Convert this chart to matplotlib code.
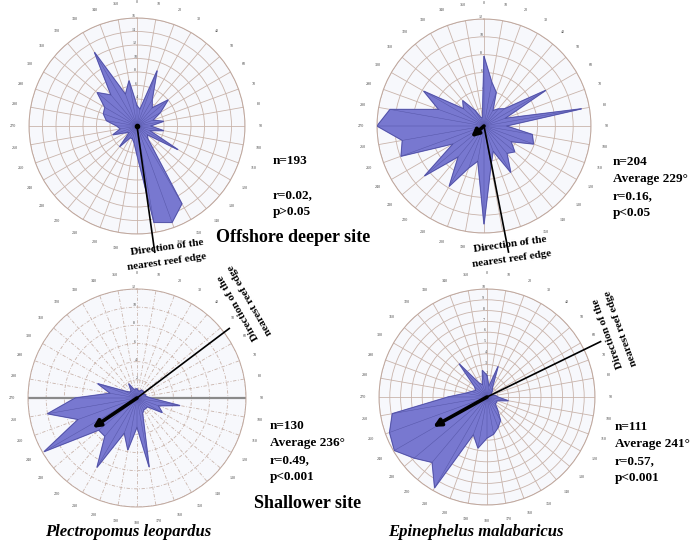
import matplotlib.pyplot as plt
import numpy as np

plt.rcParams['font.family'] = ['Liberation Serif', 'DejaVu Serif']

# compass bins (deg, clockwise from north)
angles = np.arange(0, 360, 10)
angle_labels = [str(a) for a in angles]

r_off_pl = [3, 2.5, 8.7, 4.5, 3.5, 6, 4, 2.5, 4, 2, 4, 2, 7, 2, 2.5, 13.3, 15.2, 14.5,
            4.3, 2.5, 2, 2, 4, 1.5, 2, 3.8, 2.5, 3, 4.6, 5.3, 5.5, 7.7, 6, 12.6, 5, 6.8]
r_off_em = [7.8, 5, 4, 2, 2.5, 3, 8, 2.5, 11.1, 2.5, 5.5, 5.9, 3.5, 4.5, 4, 6, 3, 4.5,
            11, 4, 5, 7.8, 4.5, 8.7, 4, 9.9, 9.3, 12, 10.7, 5.4, 7.8, 3, 3.7, 2, 1, 1]
r_sh_pl = [1, 0.8, 0.8, 1, 1, 1, 0.8, 1, 1, 1.5, 4.8, 2.5, 3.2, 1.5, 1.5, 1.5, 1.8, 7.7,
           3.2, 5.8, 4.1, 8.8, 5.5, 5.5, 11.8, 6.9, 10, 6.8, 3, 4.6, 1.5, 1, 1, 1.8, 1, 1]
r_sh_em = [2, 1, 3, 1, 0.8, 0.5, 0.5, 0.5, 0.8, 1, 2, 1, 1, 1, 1.5, 2.5, 3, 3.5,
           3.8, 4.8, 3.7, 9.7, 7.9, 8.8, 9.9, 9.6, 8.9, 3.6, 2, 1.5, 1.2, 1.5, 4, 1.5, 1.2, 2.5]

rmax = [16, 12, 12, 10]
rstep = [2, 2, 2, 1]
n_obs = [193, 204, 130, 111]
mean_dir = [None, 229, 236, 241]
r_stat = [0.02, 0.16, 0.49, 0.57]
p_text = ['p>0.05', 'p<0.05', 'p<0.001', 'p<0.001']
reef_dir = [172, 169, 53, 64]

W, H = 695, 543
fig = plt.figure(figsize=(W / 100, H / 100), dpi=100)
fig.patch.set_facecolor('white')

def fx(x):
    return x / W

def fy(y):
    return 1 - y / H

# (cx, cy, R) in pixels for each rose
panels = [(137, 126, 108), (484, 126, 107), (137, 398, 109), (487, 397, 108)]
data = [r_off_pl, r_off_em, r_sh_pl, r_sh_em]
reef_len = [1.18, 1.2, 1.06, 1.17]

for i, (cx, cy, R) in enumerate(panels):
    ax = fig.add_axes([fx(cx - R), (H - cy - R) / H, 2 * R / W, 2 * R / H], projection='polar')
    ax.set_theta_zero_location('N')
    ax.set_theta_direction(-1)
    ax.set_ylim(0, rmax[i])
    ax.set_facecolor('#f7f8fc')
    ax.set_axisbelow(True)
    ax.set_thetagrids(angles, angle_labels, fontsize=3, color='#444444')
    ticks = np.arange(rstep[i], rmax[i] + 0.01, rstep[i])
    ax.set_rgrids(ticks, [str(int(t)) for t in ticks], fontsize=3, color='#444444')
    ax.set_rlabel_position(357)
    ax.tick_params(axis='x', pad=1)
    ls = (0, (4, 2, 1, 2)) if i == 2 else '-'
    ax.grid(color='#c9b4ab', lw=0.6, ls=ls)
    ax.spines['polar'].set_color('#bfa79d')
    ax.spines['polar'].set_linewidth(0.7)

    th = np.deg2rad(angles)
    r = np.array(data[i])
    thc = np.append(th, th[0])
    rc = np.append(r, r[0])
    ax.fill(thc, rc, color='#7878d0', zorder=2)
    ax.plot(thc, rc, color='#4c4c9c', lw=0.5, zorder=3)
    for t, v in zip(th, r):
        ax.plot([t, t], [0, v], color='#5656a8', lw=0.35, zorder=3)

    if i == 2:
        for t in (np.pi / 2, 3 * np.pi / 2):
            ax.plot([t, t], [0, rmax[i]], color='#8a8a8a', lw=1.6, zorder=1.5)

    # direction of nearest reef edge
    td = np.deg2rad(reef_dir[i])
    ax.plot([td, td], [0, rmax[i] * reef_len[i]], color='black', lw=1.2, zorder=5, clip_on=False)

    # mean vector
    if mean_dir[i] is None:
        ax.plot([0], [0], 'o', color='black', ms=3, zorder=6)
    else:
        tm = np.deg2rad(mean_dir[i])
        ax.annotate('', xy=(tm, r_stat[i] * rmax[i]), xytext=(0, 0),
                    arrowprops=dict(arrowstyle='-|>', color='black', lw=2.6, mutation_scale=11,
                                    shrinkA=0, shrinkB=0), zorder=6)

# statistics
stat_pos = [(273, 161), (613, 162), (270, 426), (615, 427)]
for i, (x, y) in enumerate(stat_pos):
    lines = ['n=%d' % n_obs[i],
             'Average %d°' % mean_dir[i] if mean_dir[i] else '',
             'r=%.2f,' % r_stat[i], p_text[i]]
    for k, s in enumerate(lines):
        fig.text(fx(x), fy(y + 17 * k), s, fontsize=9.5, fontweight='bold', va='center', ha='left')

fig.text(fx(293), fy(238), 'Offshore deeper site', fontsize=13, fontweight='bold', ha='center', va='center')
fig.text(fx(308), fy(504), 'Shallower site', fontsize=13, fontweight='bold', ha='center', va='center')
fig.text(fx(128), fy(532), 'Plectropomus leopardus', fontsize=12, fontweight='bold',
         style='italic', ha='center', va='center')
fig.text(fx(476), fy(532), 'Epinephelus malabaricus', fontsize=12, fontweight='bold',
         style='italic', ha='center', va='center')

# "Direction of the nearest reef edge" labels
dir_txt = [((167, 247), (167, 262), 8), ((510, 244), (512, 259), 8),
           ((238, 307), (250, 300), 120), ((608, 333), (621, 328), 110)]
for (p1, p2, rot) in dir_txt:
    fig.text(fx(p1[0]), fy(p1[1]), 'Direction of the', fontsize=8, fontweight='bold',
             rotation=rot, rotation_mode='anchor', ha='center', va='center')
    fig.text(fx(p2[0]), fy(p2[1]), 'nearest reef edge', fontsize=8, fontweight='bold',
             rotation=rot, rotation_mode='anchor', ha='center', va='center')

plt.savefig('out.png', dpi=100)
